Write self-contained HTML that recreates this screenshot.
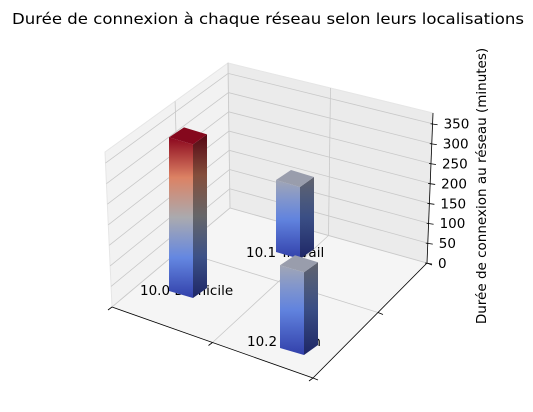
<!DOCTYPE html>
<html><head><meta charset="utf-8"><style>
body{margin:0;background:#fff;}
svg{display:block;font-family:"DejaVu Sans","Liberation Sans",sans-serif;}
</style></head><body>
<svg id="chart" width="533" height="412" viewBox="0 0 533 412">
<defs id="defs"></defs>
<text x="12" y="24" font-size="15" textLength="512" lengthAdjust="spacingAndGlyphs">Durée de connexion à chaque réseau selon leurs localisations</text>
<g id="panes">
<polygon points="105,152 228,63 230,208 112,307" fill="#f2f2f2" stroke="#e6e6e6"/>
<polygon points="228,63 433,113 427,263 230,208" fill="#ebebeb" stroke="#e6e6e6"/>
<polygon points="112,307 230,208 427,263 313,378" fill="#f5f5f5" stroke="#e6e6e6"/>
</g>
<g id="grid" stroke="#c8c8c8" stroke-width="0.8" fill="none"></g>
<g id="axes" stroke="#000" stroke-width="0.8">
<line x1="112" y1="307" x2="313" y2="378"/>
<line x1="313" y1="378" x2="427" y2="263"/>
<line x1="433" y1="113" x2="427" y2="263"/>
</g>
<g id="zticks" font-size="13.5"></g>
<text transform="translate(486,186) rotate(-90)" font-size="13.5" text-anchor="middle">Durée de connexion au réseau (minutes)</text>
<g id="bars"></g>
</svg>
<script>
const categories = ["10.0 Domicile","10.1 Travail","10.2 Voisin"];
const durations = [320, 150, 150];
const zTicks = [0,50,100,150,200,250,300,350];

const NS="http://www.w3.org/2000/svg";
function mk(tag,attrs,parent){const e=document.createElementNS(NS,tag);for(const k in attrs)e.setAttribute(k,attrs[k]);parent.appendChild(e);return e;}
const ZMAX=377;
function lerp(a,b,t){return [a[0]+(b[0]-a[0])*t,a[1]+(b[1]-a[1])*t];}
const Lb=[112,307],Lt=[105,152],Bb=[230,208],Bt=[228,63],Rb=[427,263],Rt=[433,113];
function zAt(bot,top,z){return lerp(bot,top,z/ZMAX);}
const grid=document.getElementById('grid');
zTicks.forEach(z=>{
  const l=zAt(Lb,Lt,z),b=zAt(Bb,Bt,z),r=zAt(Rb,Rt,z);
  const gl=mk('polyline',{points:`${l} ${b} ${r}`},grid);
  
  
});
const F=[313,378];
const xm=lerp(Lb,F,0.5);
mk('line',{x1:xm[0],y1:xm[1],x2:lerp(Bb,Rb,0.5)[0],y2:lerp(Bb,Rb,0.5)[1]},grid);
const ym=lerp(F,Rb,0.57), ym2=lerp(Lb,Bb,0.57);
mk('line',{x1:ym[0],y1:ym[1],x2:ym2[0],y2:ym2[1]},grid);
mk('line',{x1:ym2[0],y1:ym2[1],x2:lerp(Lt,Bt,0.57)[0],y2:lerp(Lt,Bt,0.57)[1]},grid);
const bx=lerp(Bb,Rb,0.5);
mk('line',{x1:bx[0],y1:bx[1],x2:lerp(Bt,Rt,0.5)[0],y2:lerp(Bt,Rt,0.5)[1]},grid);
mk('line',{x1:Bb[0],y1:Bb[1],x2:Bt[0],y2:Bt[1]},grid);
const axes=document.getElementById('axes');
[0,0.5,1].forEach(t=>{const p=lerp(Lb,F,t);mk('line',{x1:p[0],y1:p[1],x2:p[0]-4,y2:p[1]+3},axes);});
[0,0.57,1].forEach(t=>{const p=lerp(F,Rb,t);mk('line',{x1:p[0],y1:p[1],x2:p[0]+5,y2:p[1]+2},axes);});
const zt=document.getElementById('zticks');
zTicks.forEach(z=>{
  const p=zAt(Rb,Rt,z);
  mk('line',{x1:p[0]-2,y1:p[1],x2:p[0]+5,y2:p[1]+1,stroke:'#000','stroke-width':0.8},zt);
  const t=mk('text',{x:p[0]+11,y:p[1]+5},zt);t.textContent=z;
  
  
});
const cw=[[0,[50,64,170]],[0.25,[100,135,225]],[0.5,[170,170,175]],[0.75,[220,130,100]],[1,[140,8,30]]];
function cmap(t,f=1){for(let i=1;i<cw.length;i++){if(t<=cw[i][0]){const a=cw[i-1],b=cw[i];const u=(t-a[0])/(b[0]-a[0]);const c=a[1].map((v,k)=>Math.round((v+(b[1][k]-v)*u)*f));return `rgb(${c})`;}}return `rgb(${cw[4][1].map(v=>Math.round(v*f))})`;}
const K=0.48;
const base=[[169,291],[276,252],[280,348]];
const depthScale=[1,1,1.15];
const labelPos=[[140,295],[246,257],[247,346]];
const maxV=Math.max(...durations);
const defs=document.getElementById('defs');
const bars=document.getElementById('bars');
const order=[1,0,2];
categories.forEach((c,i)=>{
  const t=mk('text',{x:labelPos[i][0],y:labelPos[i][1],'font-size':13.5},bars);
  t.textContent=c;
  
  
});
order.forEach(i=>{
  const v=durations[i],h=v*K*depthScale[i],[x,y]=base[i],frac=v/maxV;
  ['f','s'].forEach((k,j)=>{
    const g=mk('linearGradient',{id:`g${k}${i}`,x1:0,y1:1,x2:0,y2:0},defs);
    for(let s=0;s<=4;s++){mk('stop',{offset:s/4,'stop-color':cmap(frac*s/4,j?0.6:1)},g);}
  });
  const top=y-h;
  const grp=mk('g',{},bars);
  
  
  mk('polygon',{points:`${x},${y} ${x+24},${y+7} ${x+24},${top+7} ${x},${top}`,fill:`url(#gf${i})`},grp);
  mk('polygon',{points:`${x+24},${y+7} ${x+38},${y-3} ${x+38},${top-3} ${x+24},${top+7}`,fill:`url(#gs${i})`},grp);
  mk('polygon',{points:`${x},${top} ${x+24},${top+7} ${x+38},${top-3} ${x+15},${top-10}`,fill:cmap(frac,0.95)},grp);
});
</script>
</body></html>
